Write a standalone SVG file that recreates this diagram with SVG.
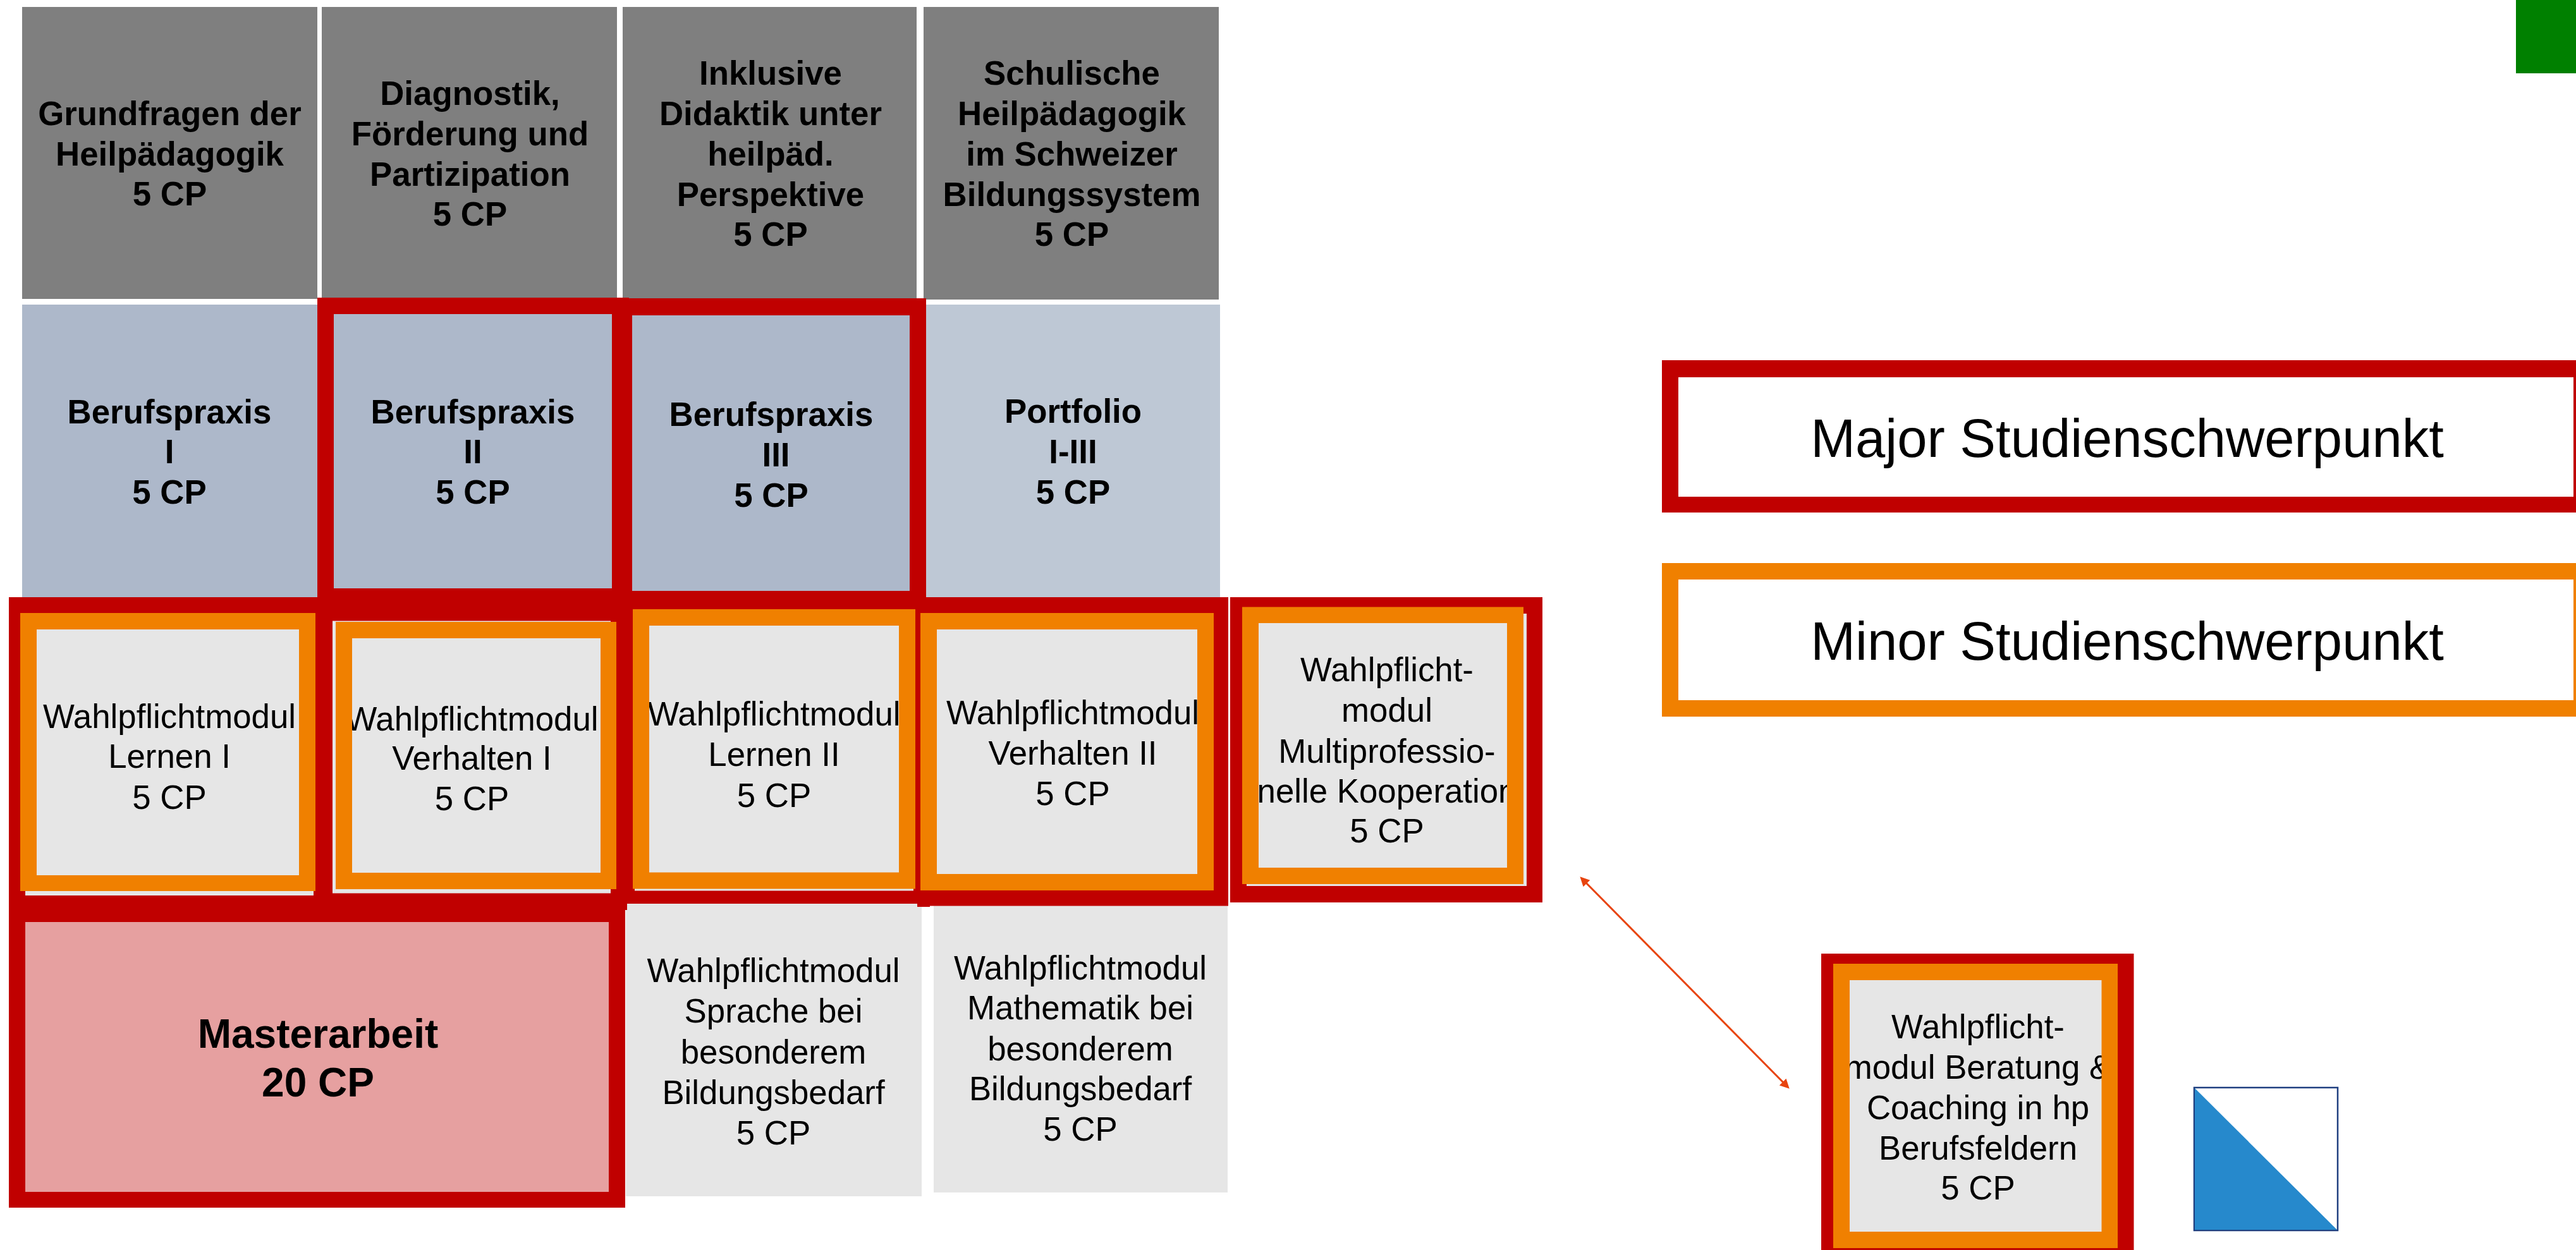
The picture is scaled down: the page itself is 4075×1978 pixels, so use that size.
<svg xmlns="http://www.w3.org/2000/svg" width="4075" height="1978" viewBox="0 0 4075 1978">
<style>
text{font-family:"Liberation Sans",Arial,sans-serif;text-anchor:middle;fill:#000}
.b{font-size:52.8px;font-weight:700}
.r{font-size:52.8px}
.m{font-size:64px;font-weight:700}
.l{font-size:85px}
.red{fill:#c00000;fill-rule:evenodd}
.or{fill:#f08000;fill-rule:evenodd}
.core{fill:#7f7f7f}
.prax{fill:#adb8ca}
.port{fill:#bec8d5}
.mod{fill:#e6e6e6}
.mas{fill:#e6a0a0}
.con{stroke:#e8440f;stroke-width:3;fill:none;marker-start:url(#hs);marker-end:url(#he)}
</style>
<defs>
<marker id="he" markerUnits="userSpaceOnUse" markerWidth="18" markerHeight="18" refX="9" refY="9" orient="auto"><path d="M1 1.500L16 9L1 16.500Z" fill="#e8440f"/></marker>
<marker id="hs" markerUnits="userSpaceOnUse" markerWidth="18" markerHeight="18" refX="9" refY="9" orient="auto"><path d="M17 1.500L2 9L17 16.500Z" fill="#e8440f"/></marker>
</defs>
<rect width="4075" height="1978" fill="#fff"/>
<g id="core1"><rect class="core" x="35" y="11" width="467" height="462"/><text class="b"><tspan x="268.5" y="197.5">Grundfragen der</tspan><tspan x="268.5" y="261.5">Heilpädagogik</tspan><tspan x="268.5" y="325">5 CP</tspan></text></g>
<g id="core2"><rect class="core" x="509" y="11" width="467" height="462"/><text class="b"><tspan x="743.5" y="166">Diagnostik,</tspan><tspan x="743.5" y="230">Förderung und</tspan><tspan x="743.5" y="294">Partizipation</tspan><tspan x="743.5" y="357">5 CP</tspan></text></g>
<g id="core3"><rect class="core" x="985" y="11" width="465" height="462"/><text class="b"><tspan x="1219" y="134">Inklusive</tspan><tspan x="1219" y="198">Didaktik unter</tspan><tspan x="1219" y="262">heilpäd.</tspan><tspan x="1219" y="326">Perspektive</tspan><tspan x="1219" y="389">5 CP</tspan></text></g>
<g id="core4"><rect class="core" x="1461" y="11" width="467" height="463"/><text class="b"><tspan x="1695.5" y="134">Schulische</tspan><tspan x="1695.5" y="198">Heilpädagogik</tspan><tspan x="1695.5" y="262">im Schweizer</tspan><tspan x="1695.5" y="326">Bildungssystem</tspan><tspan x="1695.5" y="389">5 CP</tspan></text></g>
<g id="praxis1"><rect class="prax" x="35" y="482" width="467" height="463"/><text class="b"><tspan x="268" y="669.5">Berufspraxis</tspan><tspan x="268" y="733">I</tspan><tspan x="268" y="797">5 CP</tspan></text></g>
<g id="portfolio"><rect class="port" x="1464" y="482" width="466" height="463"/><text class="b"><tspan x="1697.5" y="669">Portfolio</tspan><tspan x="1697.5" y="733">I-III</tspan><tspan x="1697.5" y="797">5 CP</tspan></text></g>
<g id="praxis2"><rect class="prax" x="520" y="490" width="460" height="450"/><text class="b"><tspan x="748" y="669.5">Berufspraxis</tspan><tspan x="748" y="733">II</tspan><tspan x="748" y="797">5 CP</tspan></text><path class="red" d="M502 471H995V957H502ZM528 497V931H968V497Z"/></g>
<g id="praxis3"><rect class="prax" x="995" y="490" width="450" height="450"/><text class="b"><tspan x="1220" y="674">Berufspraxis</tspan><tspan x="1227.5" y="738">III</tspan><tspan x="1220" y="802">5 CP</tspan></text><path class="red" d="M974 472H1465V961H974ZM1000 499V935H1439V499Z"/></g>
<g id="sprache"><rect class="mod" x="990" y="1430" width="468" height="463"/><text class="r"><tspan x="1223.5" y="1554">Wahlpflichtmodul</tspan><tspan x="1223.5" y="1618">Sprache bei</tspan><tspan x="1223.5" y="1683">besonderem</tspan><tspan x="1223.5" y="1747">Bildungsbedarf</tspan><tspan x="1223.5" y="1811">5 CP</tspan></text></g>
<g id="mathe"><rect class="mod" x="1477" y="1430" width="465" height="457"/><text class="r"><tspan x="1709" y="1549.5">Wahlpflichtmodul</tspan><tspan x="1709" y="1613">Mathematik bei</tspan><tspan x="1709" y="1677.5">besonderem</tspan><tspan x="1709" y="1741">Bildungsbedarf</tspan><tspan x="1709" y="1805">5 CP</tspan></text></g>
<g id="masterarbeit"><rect class="mas" x="30" y="1450" width="945" height="450"/><text class="m"><tspan x="503" y="1658">Masterarbeit</tspan><tspan x="503" y="1735">20 CP</tspan></text><path class="red" d="M14 1430H989V1911H14ZM40 1459V1886H963V1459Z"/></g>
<g id="lernen1"><rect class="mod" x="40" y="971" width="456" height="446"/><text class="r"><tspan x="268" y="1152">Wahlpflichtmodul</tspan><tspan x="268" y="1215">Lernen I</tspan><tspan x="268" y="1280">5 CP</tspan></text><path class="red" d="M14 945H522V1443H14ZM40 971V1417H496V971Z"/><path class="or" d="M32 970H499V1410H32ZM58 996V1385H473V996Z"/></g>
<g id="verhalten1"><rect class="mod" x="526" y="982" width="440" height="432"/><text class="r"><tspan x="746.5" y="1156">Wahlpflichtmodul</tspan><tspan x="746.5" y="1218">Verhalten I</tspan><tspan x="746.5" y="1282">5 CP</tspan></text><path class="red" d="M500 956H992V1440H500ZM526 982.5V1413.5H966V982.5Z"/><path class="or" d="M531 984H975V1407H531ZM557 1010V1381H950V1010Z"/></g>
<g id="lernen2"><rect class="mod" x="1004" y="965" width="441" height="445"/><text class="r"><tspan x="1224.5" y="1148">Wahlpflichtmodul</tspan><tspan x="1224.5" y="1212">Lernen II</tspan><tspan x="1224.5" y="1277">5 CP</tspan></text><path class="red" d="M985 945H1471V1435H1451V1430H985ZM1004 965V1409.5H1445V965Z"/><path class="or" d="M1001 964H1448V1406.5H1001ZM1027 990V1380.5H1422V990Z"/></g>
<g id="verhalten2"><rect class="mod" x="1477" y="971" width="440" height="437"/><text class="r"><tspan x="1697" y="1146">Wahlpflichtmodul</tspan><tspan x="1697" y="1210">Verhalten II</tspan><tspan x="1697" y="1274">5 CP</tspan></text><path class="red" d="M1451 945H1943V1433.5H1451ZM1477 971V1408H1917V971Z"/><path class="or" d="M1456 970H1920V1409H1456ZM1482 996V1383H1894V996Z"/></g>
<g id="multiprof"><rect class="mod" x="1972" y="971" width="443" height="431"/><text class="r"><tspan x="2194" y="1078">Wahlpflicht-</tspan><tspan x="2194" y="1142">modul</tspan><tspan x="2194" y="1206.5">Multiprofessio-</tspan><tspan x="2194" y="1270">nelle Kooperation</tspan><tspan x="2194" y="1333">5 CP</tspan></text><path class="red" d="M1946 945H2440V1428H1946ZM1972 971V1402H2415V971Z"/><path class="or" d="M1965 960.500H2410V1399H1965ZM1991 986V1373H2384V986Z"/></g>
<g id="beratung"><rect class="mod" x="2926" y="1551" width="399" height="398"/><text class="r"><tspan x="3129" y="1642.500">Wahlpflicht-</tspan><tspan x="3129" y="1706.500">modul Beratung &amp;</tspan><tspan x="3129" y="1770.500">Coaching in hp</tspan><tspan x="3129" y="1834.500">Berufsfeldern</tspan><tspan x="3129" y="1898">5 CP</tspan></text><path class="or" d="M2900 1525H3350V1975H2900ZM2926 1551V1949H3324.500V1551Z"/><path class="red" d="M2881 1509H3375.500V1990H2881ZM2900 1525V1975H3350V1525Z"/></g>
<g id="legend-major"><text class="l" x="3365" y="723">Major Studienschwerpunkt</text><path class="red" d="M2629 570H4085V811H2629ZM2655 597V786H4071V597Z"/></g>
<g id="legend-minor"><text class="l" x="3365" y="1044">Minor Studienschwerpunkt</text><path class="or" d="M2629 891H4085V1134H2629ZM2655 917V1108H4071V917Z"/></g>
<g id="green"><rect x="3980" y="0" width="95" height="116" fill="#008000"/></g>
<g id="wappen"><rect x="3471" y="1721" width="227" height="226" fill="#fff" stroke="#1f3f7f" stroke-width="2.500"/><path d="M3472 1722V1946H3697Z" fill="#2689cc"/></g>
<g id="connectors"><line class="con" x1="2504.300" y1="1392.300" x2="2825.800" y2="1717.800"/></g>
</svg>
